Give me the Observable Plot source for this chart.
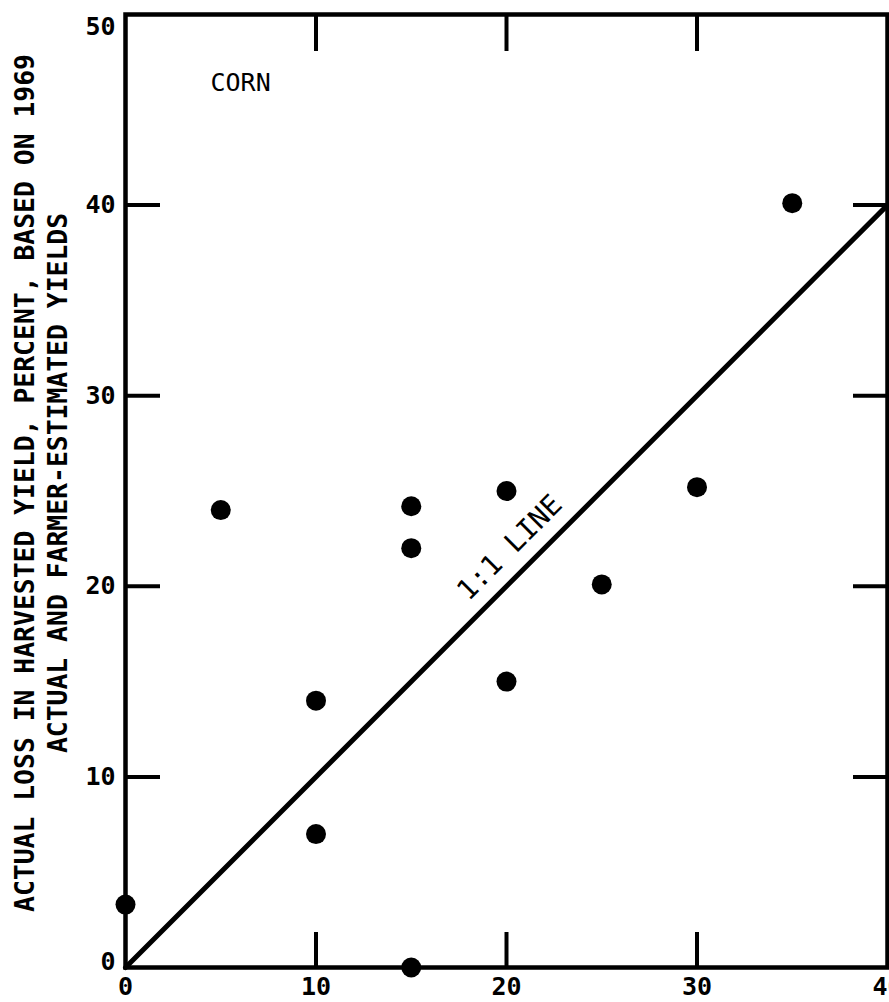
<!DOCTYPE html>
<html><head><meta charset="utf-8">
<script src="https://cdn.jsdelivr.net/npm/d3@7"></script>
<script src="https://cdn.jsdelivr.net/npm/@observablehq/plot@0.6"></script>
<style>body{margin:0;background:#fff} svg{display:block}</style>
</head><body><div id="chart"></div>
<script>
// Data
const estimated = [0, 5, 10, 10, 15, 15, 15, 20, 20, 25, 30, 35];
const actual    = [3.3, 24, 14, 7, 24.2, 22, 0, 25, 15, 20.1, 25.2, 40.1];
const xTicks = [0, 10, 20, 30, 40];
const yTicksMid = [10, 20, 30, 40];
const innerTicksX = [10, 20, 30];
const innerTicksY = [10, 20, 30, 40];
const oneToOne = [0, 40];
const title1 = "ACTUAL LOSS IN HARVESTED YIELD, PERCENT, BASED ON 1969";
const title2 = "ACTUAL AND FARMER-ESTIMATED YIELDS";
const panelLabel = "CORN";
const lineLabel = "1:1 LINE";
const lineLabelAt = 21.1;

const points = estimated.map((x, i) => ({x, y: actual[i]}));
const linePts = oneToOne.map(v => ({x: v, y: v}));
const font = "DejaVu Sans Mono";

const chart = Plot.plot({
  width: 889, height: 1002,
  marginLeft: 125, marginRight: 2, marginTop: 14, marginBottom: 35,
  x: {domain: [0, 40]},
  y: {domain: [0, 50]},
  style: {fontFamily: font, background: "#fff", color: "#000", overflow: "visible"},
  marks: [
    Plot.frame({stroke: "#000", strokeWidth: 4.5}),
    Plot.line(linePts, {x: "x", y: "y", stroke: "#000", strokeWidth: 5}),
    Plot.dot(points, {x: "x", y: "y", r: 10, fill: "#000", stroke: null}),
    // inward tick marks on all four sides
    Plot.axisX({anchor: "bottom", ticks: innerTicksX, tickSize: -35, strokeWidth: 4, tickFormat: () => "", label: null}),
    Plot.axisX({anchor: "top", ticks: innerTicksX, tickSize: -36, strokeWidth: 4, tickFormat: () => "", label: null}),
    Plot.axisY({anchor: "left", ticks: innerTicksY, tickSize: -35, strokeWidth: 4, tickFormat: () => "", label: null}),
    Plot.axisY({anchor: "right", ticks: innerTicksY, tickSize: -35, strokeWidth: 4, tickFormat: () => "", label: null}),
    // tick labels
    Plot.axisX({anchor: "bottom", ticks: xTicks, tickSize: 0, tickPadding: 10, fontSize: 25, fontWeight: "bold", label: null}),
    Plot.axisY({anchor: "left", ticks: yTicksMid, tickSize: 0, tickPadding: 10, fontSize: 25, fontWeight: "bold", label: null}),
    Plot.axisY({anchor: "left", ticks: [50], tickSize: 0, tickPadding: 10, dy: 12, fontSize: 25, fontWeight: "bold", label: null}),
    Plot.axisY({anchor: "left", ticks: [0], tickSize: 0, tickPadding: 10, dy: -6, fontSize: 25, fontWeight: "bold", label: null}),
    // y title, two lines
    Plot.text([title1], {text: d => d, frameAnchor: "left", rotate: -90, dx: -100, dy: -8, textAnchor: "middle", lineAnchor: "middle", fontSize: 26.4, fontWeight: "bold", fill: "#000"}),
    Plot.text([title2], {text: d => d, frameAnchor: "left", rotate: -90, dx: -67, dy: -8, textAnchor: "middle", lineAnchor: "middle", fontSize: 26.4, fontWeight: "bold", fill: "#000"}),
    // annotations
    Plot.text([panelLabel], {text: d => d, frameAnchor: "top-left", dx: 85, dy: 68, textAnchor: "start", lineAnchor: "middle", fontSize: 25, fill: "#000"}),
    Plot.text([{v: lineLabelAt, t: lineLabel}], {x: "v", y: "v", text: "t", rotate: -45, dx: -17.7, dy: -17.7, textAnchor: "middle", lineAnchor: "middle", fontSize: 28, fill: "#000"})
  ]
});
document.getElementById("chart").append(chart);
</script>
</body></html>
